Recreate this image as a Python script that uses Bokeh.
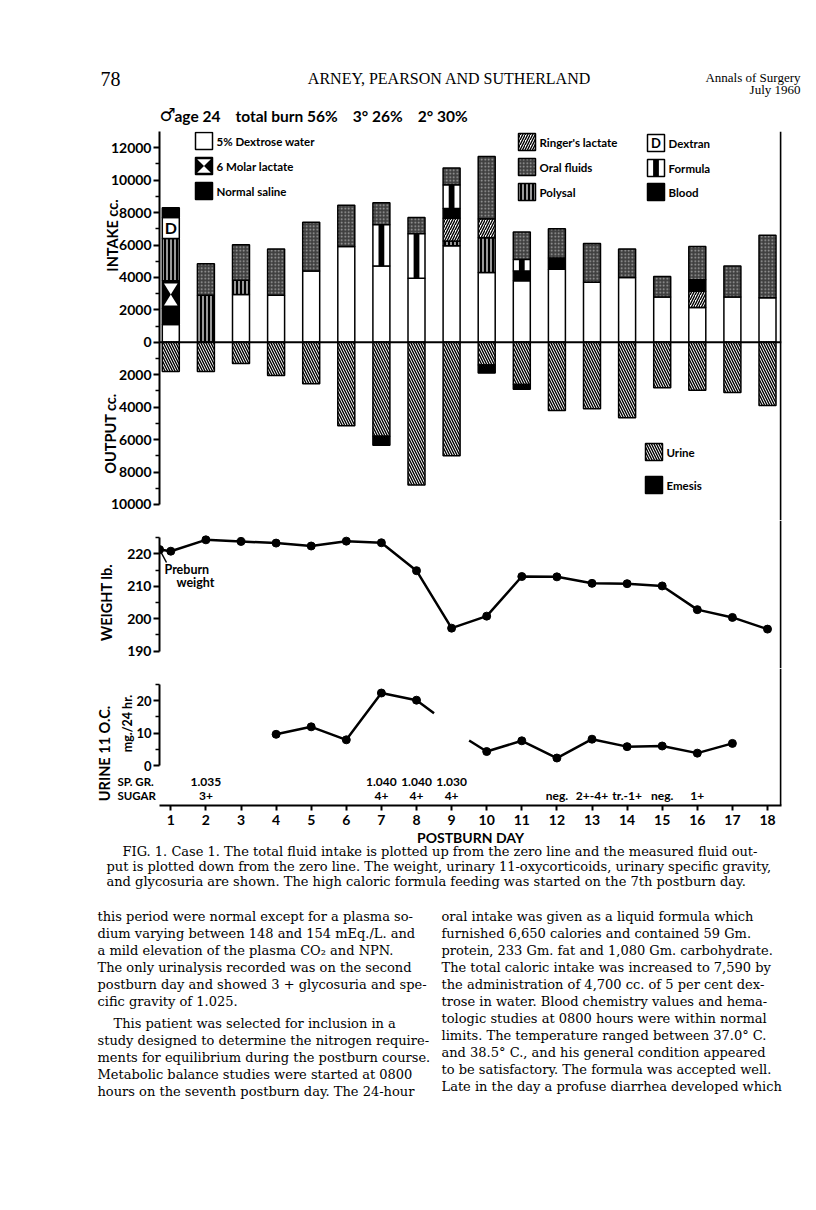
import math
from bokeh.plotting import figure
from bokeh.layouts import column
from bokeh.models import Range1d, FixedTicker, LinearAxis, Label, ColumnDataSource, Span
from bokeh.core.properties import value
from bokeh.embed import file_html
from bokeh.resources import INLINE

# ------------------------------------------------------------------ data
days = list(range(1, 19))

# intake: stacked segments from the zero line upward, in drawing order
intake_day = [1, 1, 1, 1, 1, 1,
              2, 2,
              3, 3, 3,
              4, 4,
              5, 5,
              6, 6,
              7, 7, 7,
              8, 8, 8,
              9, 9, 9, 9, 9, 9,
              10, 10, 10, 10,
              11, 11, 11, 11,
              12, 12, 12,
              13, 13,
              14, 14,
              15, 15,
              16, 16, 16, 16,
              17, 17,
              18, 18]
intake_kind = ["dextrose", "saline", "lactate", "polysal", "dextran", "blood",
               "polysal", "oral",
               "dextrose", "polysal", "oral",
               "dextrose", "oral",
               "dextrose", "oral",
               "dextrose", "oral",
               "dextrose", "formula", "oral",
               "dextrose", "formula", "oral",
               "dextrose", "polysal", "ringer", "blood", "formula", "oral",
               "dextrose", "polysal", "ringer", "oral",
               "dextrose", "blood", "formula", "oral",
               "dextrose", "blood", "oral",
               "dextrose", "oral",
               "dextrose", "oral",
               "dextrose", "oral",
               "dextrose", "ringer", "blood", "oral",
               "dextrose", "oral",
               "dextrose", "oral"]
intake_cc = [1100, 1000, 1700, 2600, 1300, 600,
             2900, 1950,
             2950, 870, 2200,
             2900, 2850,
             4400, 3000,
             5900, 2550,
             4700, 2550, 1350,
             3950, 2750, 1000,
             5950, 300, 1400, 600, 1450, 1050,
             4300, 2150, 1150, 3850,
             3800, 600, 700, 1700,
             4500, 700, 1800,
             3700, 2400,
             4000, 1750,
             2800, 1250,
             2150, 1000, 700, 2050,
             2800, 1900,
             2750, 3850]

# output (plotted downward)
urine_cc = [1800, 1800, 1300, 2050, 2550, 5150, 5800, 8800, 7000,
            1400, 2600, 4200, 4100, 4650, 2800, 2950, 3100, 3900]
emesis_cc = [0, 0, 0, 0, 0, 0, 550, 0, 0,
             500, 300, 0, 0, 0, 0, 0, 0, 0]

# weight (lb)
preburn_day = 0.68
preburn_weight = 221.3
weight_lb = [220.8, 224.3, 223.8, 223.3, 222.4, 223.9, 223.4, 214.8, 197.1,
             200.8, 213.0, 212.9, 210.9, 210.8, 210.1, 202.8, 200.4, 196.8]

# urine 11-oxycorticoids (mg/24 hr), two traced pieces
oc1_day = [4, 5, 6, 7, 8, 8.5]
oc1_val = [9.6, 11.9, 7.9, 22.3, 20.1, 16.1]
oc2_day = [9.5, 10, 11, 12, 13, 14, 15, 16, 17]
oc2_val = [7.7, 4.3, 7.6, 2.3, 8.1, 5.8, 6.0, 3.8, 6.8]

spgr_day = [2, 7, 8, 9]
spgr_txt = ["1.035", "1.040", "1.040", "1.030"]
sugar_day = [2, 7, 8, 9, 12, 13, 14, 15, 16]
sugar_txt = ["3+", "4+", "4+", "4+", "neg.", "2+-4+", "tr.-1+", "neg.", "1+"]

intake_ticks = list(range(0, 12001, 2000))
output_ticks = list(range(-10000, -1999, 2000))
weight_ticks = [190, 200, 210, 220]
oc_ticks = [0, 10, 20]

legend_items = [  # kind, label
    ("dextrose", "5% Dextrose water"), ("lactate", "6 Molar lactate"), ("saline", "Normal saline"),
    ("ringer", "Ringer's lactate"), ("oral", "Oral fluids"), ("polysal", "Polysal"),
    ("dextran", "Dextran"), ("formula", "Formula"), ("blood", "Blood"),
]
out_legend_items = [("urine", "Urine"), ("emesis", "Emesis")]

caption_lines = [
    "FIG. 1. Case 1. The total fluid intake is plotted up from the zero line and the measured fluid out-",
    "put is plotted down from the zero line. The weight, urinary 11-oxycorticoids, urinary specific gravity,",
    "and glycosuria are shown. The high caloric formula feeding was started on the 7th postburn day.",
]
left_col = [
    "this period were normal except for a plasma so-",
    "dium varying between 148 and 154 mEq./L. and",
    "a mild elevation of the plasma CO\u2082 and NPN.",
    "The only urinalysis recorded was on the second",
    "postburn day and showed 3 + glycosuria and spe-",
    "cific gravity of 1.025.",
    "This patient was selected for inclusion in a",
    "study designed to determine the nitrogen require-",
    "ments for equilibrium during the postburn course.",
    "Metabolic balance studies were started at 0800",
    "hours on the seventh postburn day. The 24-hour",
]
right_col = [
    "oral intake was given as a liquid formula which",
    "furnished 6,650 calories and contained 59 Gm.",
    "protein, 233 Gm. fat and 1,080 Gm. carbohydrate.",
    "The total caloric intake was increased to 7,590 by",
    "the administration of 4,700 cc. of 5 per cent dex-",
    "trose in water. Blood chemistry values and hema-",
    "tologic studies at 0800 hours were within normal",
    "limits. The temperature ranged between 37.0\u00b0 C.",
    "and 38.5\u00b0 C., and his general condition appeared",
    "to be satisfactory. The formula was accepted well.",
    "Late in the day a profuse diarrhea developed which",
]

# ------------------------------------------------------------------ layout constants (page pixels)
SANS = "Lato"
SERIF = "Liberation Serif"
BODY = "DejaVu Serif"
NB = "\u00a0"
W = 810                       # width of every figure (page x 0..810)
FL, FR = 159, 781             # frame left / right on the page
DAY1_PX, DAY_PX = 170.3, 35.1
X0 = 1 + (FL - DAY1_PX) / DAY_PX
X1 = 1 + (FR - DAY1_PX) / DAY_PX
BAR_W = 17 / DAY_PX
xr = Range1d(X0, X1)

STYLE = {
    "dextrose": dict(fill_color="white"),
    "dextran": dict(fill_color="white"),
    "formula": dict(fill_color="white"),
    "saline": dict(fill_color="black"),
    "blood": dict(fill_color="black"),
    "lactate": dict(fill_color="black"),
    "emesis": dict(fill_color="black"),
    "polysal": dict(fill_color="black", hatch_pattern="vertical_line", hatch_color="white",
                    hatch_scale=4, hatch_weight=1.2),
    "ringer": dict(fill_color="white", hatch_pattern="right_diagonal_line", hatch_color="black",
                   hatch_scale=5, hatch_weight=1.4),
    "urine": dict(fill_color="white", hatch_pattern="left_diagonal_line", hatch_color="black",
                  hatch_scale=5, hatch_weight=1.4),
    "oral": dict(fill_color="#404040", hatch_pattern="dot", hatch_color="#a8a8a8",
                 hatch_scale=3.5),
}


class Mapper:
    def __init__(self, T, B, y0, y1):
        self.T, self.B, self.y0, self.y1 = T, B, y0, y1

    def x(self, px):
        return X0 + (px - FL) / (FR - FL) * (X1 - X0)

    def y(self, py):
        return self.y0 + (self.B - py) / (self.B - self.T) * (self.y1 - self.y0)


def make_fig(page_top, page_bottom, frame_top, frame_bottom, y0, y1):
    h = page_bottom - page_top
    p = figure(width=W, height=h, x_range=xr, y_range=Range1d(y0, y1),
               output_backend="svg", toolbar_location=None,
               x_axis_location=None, y_axis_location=None,
               min_border_left=FL, min_border_right=W - FR,
               min_border_top=frame_top - page_top, min_border_bottom=page_bottom - frame_bottom)
    p.outline_line_color = None
    p.grid.visible = False
    p.background_fill_color = "white"
    p.border_fill_color = "white"
    return p


def style_axis(ax, size="14px"):
    ax.axis_line_width = 2
    ax.major_tick_line_width = 2
    ax.minor_tick_line_width = 1.5
    ax.major_tick_out = 6
    ax.major_tick_in = 0
    ax.minor_tick_out = 4
    ax.minor_tick_in = 0
    ax.major_label_text_font = SANS
    ax.major_label_text_font_style = "bold"
    ax.major_label_text_font_size = size
    ax.major_label_text_color = "black"
    ax.major_label_standoff = 2


def add_label(p, x, y, text, font=SANS, size="13px", style="bold", align="left", angle=0.0):
    p.add_layout(Label(x=x, y=y, text=text, text_font=font, text_font_size=size,
                       text_font_style=style, text_align=align, text_baseline="middle",
                       angle=angle, text_color="black"))


def draw_blocks(p, kind, left, right, bottom, top, d_size="16px"):
    if not left:
        return
    src = ColumnDataSource(dict(left=left, right=right, bottom=bottom, top=top))
    p.quad(left="left", right="right", bottom="bottom", top="top", source=src,
           line_color="black", line_width=1.5, **STYLE[kind])
    cx = [(l + r) / 2 for l, r in zip(left, right)]
    cy = [(b + t) / 2 for b, t in zip(bottom, top)]
    if kind == "formula":
        hw = [(r - l) * 0.17 for l, r in zip(left, right)]
        p.quad(left=[c - w for c, w in zip(cx, hw)], right=[c + w for c, w in zip(cx, hw)],
               bottom=bottom, top=top, fill_color="black", line_color=None)
    if kind == "dextran":
        p.text(x=cx, y=cy, text=["D"] * len(cx), text_font=value(SANS),
               text_font_style=value("bold"), text_font_size=value(d_size),
               text_align=value("center"), text_baseline=value("middle"), text_color="black")
    if kind == "lactate":
        xs, ys = [], []
        for l, r, b, t, x, y in zip(left, right, bottom, top, cx, cy):
            ix, iy = (r - l) * 0.1, (t - b) * 0.1
            xs += [[l + ix, r - ix, x], [l + ix, r - ix, x]]
            ys += [[t - iy, t - iy, y], [b + iy, b + iy, y]]
        p.patches(xs, ys, fill_color="white", line_color=None)


def border_span(p):
    p.add_layout(Span(location=X1 - 0.02, dimension="height", line_color="black", line_width=2))


# ------------------------------------------------------------------ figure A: intake / output
A_TOP, A_BOT = 0, 520
A_FT, A_FB = 131, 520
ZERO_PX, CC_PX = 341.8, (341.8 - 147.2) / 12000
ya0 = -(A_FB - ZERO_PX) / CC_PX
ya1 = (ZERO_PX - A_FT) / CC_PX
pa = make_fig(A_TOP, A_BOT, A_FT, A_FB, ya0, ya1)
ma = Mapper(A_FT, A_FB, ya0, ya1)

all_ticks = output_ticks + intake_ticks
ax = LinearAxis(ticker=FixedTicker(ticks=all_ticks, minor_ticks=list(range(-9000, 13001, 2000))),
                bounds=(-10000, 13000))
ax.major_label_overrides = {t: str(abs(t)) for t in all_ticks if t < 0}
style_axis(ax, "14px")
pa.add_layout(ax, "left")

base = {d: 0 for d in days}
segs = {}
for d, k, cc in zip(intake_day, intake_kind, intake_cc):
    s = segs.setdefault(k, dict(left=[], right=[], bottom=[], top=[]))
    s["left"].append(d - BAR_W / 2)
    s["right"].append(d + BAR_W / 2)
    s["bottom"].append(base[d])
    s["top"].append(base[d] + cc)
    base[d] += cc
for k, s in segs.items():
    draw_blocks(pa, k, s["left"], s["right"], s["bottom"], s["top"])

draw_blocks(pa, "urine", [d - BAR_W / 2 for d in days], [d + BAR_W / 2 for d in days],
            [-u for u in urine_cc], [0] * len(days))
em = [(d, u, e) for d, u, e in zip(days, urine_cc, emesis_cc) if e > 0]
draw_blocks(pa, "emesis", [d - BAR_W / 2 for d, u, e in em], [d + BAR_W / 2 for d, u, e in em],
            [-(u + e) for d, u, e in em], [-u for d, u, e in em])

pa.add_layout(Span(location=0, dimension="width", line_color="black", line_width=2))
border_span(pa)

BOX = 17
leg_pos = [(195, 132), (195, 157), (195, 182),
           (518, 133), (518, 158), (518, 183),
           (647, 134), (647, 159), (647, 183),
           (645, 443), (645, 476)]
for (kind, text), (bx, by) in zip(legend_items + out_legend_items, leg_pos):
    draw_blocks(pa, kind, [ma.x(bx)], [ma.x(bx + BOX)], [ma.y(by + BOX)], [ma.y(by)], d_size="13px")
    add_label(pa, ma.x(bx + BOX + 4), ma.y(by + BOX / 2), text, size="11.5px")

# ------------------------------------------------------------------ figure B: weight
B_TOP, B_BOT = 520, 668
W_PX = (650.7 - 553.3) / 30
yb0 = 190 - (B_BOT - 650.7) / W_PX
yb1 = 220 + (553.3 - B_TOP) / W_PX
pb = make_fig(B_TOP, B_BOT, B_TOP, B_BOT, yb0, yb1)
mb = Mapper(B_TOP, B_BOT, yb0, yb1)
bx_ = LinearAxis(ticker=FixedTicker(ticks=weight_ticks, minor_ticks=[195, 205, 215, 225]),
                 bounds=(190, 225))
style_axis(bx_, "14px")
pb.add_layout(bx_, "left")
wx = [preburn_day] + days
wy = [preburn_weight] + weight_lb
pb.line(wx, wy, line_color="black", line_width=2.5)
pb.scatter(wx, wy, size=8, color="black")
pb.line([preburn_day, mb.x(166)], [preburn_weight, mb.y(562)], line_color="black", line_width=1.5)
border_span(pb)
add_label(pb, mb.x(164), mb.y(569), "Preburn", size="12.5px")
add_label(pb, mb.x(176), mb.y(582), "weight", size="12.5px")

# ------------------------------------------------------------------ figure C: urine 11-OC + day axis
C_TOP, C_BOT = 668, 830
C_FB = 805
U_PX = (765 - 700) / 20
yc0 = -(C_FB - 765) / U_PX
yc1 = 20 + (700 - C_TOP) / U_PX
pc = make_fig(C_TOP, C_BOT, C_TOP, C_FB, yc0, yc1)
mc = Mapper(C_TOP, C_FB, yc0, yc1)
cy_ax = LinearAxis(ticker=FixedTicker(ticks=oc_ticks, minor_ticks=[5, 15, 25]), bounds=(0, 25))
style_axis(cy_ax, "13px")
pc.add_layout(cy_ax, "left")
cx_ax = LinearAxis(ticker=FixedTicker(ticks=days))
style_axis(cx_ax, "14px")
cx_ax.major_tick_out = 5
cx_ax.major_label_standoff = 4
pc.add_layout(cx_ax, "below")

pc.line(oc1_day, oc1_val, line_color="black", line_width=2.5)
pc.line(oc2_day, oc2_val, line_color="black", line_width=2.5)
mk = [(d, v) for d, v in zip(oc1_day + oc2_day, oc1_val + oc2_val) if float(d).is_integer()]
pc.scatter([d for d, v in mk], [v for d, v in mk], size=8, color="black")
border_span(pc)
for d, t in zip(spgr_day, spgr_txt):
    add_label(pc, d, mc.y(781), t, size="12px", align="center")
for d, t in zip(sugar_day, sugar_txt):
    add_label(pc, d, mc.y(795), t, size="12px", align="center")

# ------------------------------------------------------------------ overlay: page texts (page-pixel coords)
CHART_H = (A_BOT - A_TOP) + (B_BOT - B_TOP) + (C_BOT - C_TOP)
OH = 1200
po = figure(width=W, height=OH, x_range=Range1d(0, W), y_range=Range1d(OH, 0),
            output_backend="svg", toolbar_location=None,
            x_axis_location=None, y_axis_location=None, min_border=0)
po.outline_line_color = None
po.grid.visible = False
po.background_fill_color = None
po.border_fill_color = None
po.frame_align = False
po.margin = (-CHART_H, 0, 0, 0)

add_label(po, 100, 78, "78", font=SERIF, size="20px", style="normal")
add_label(po, 449, 78, "ARNEY, PEARSON AND SUTHERLAND", font=SERIF, size="16px",
          style="normal", align="center")
add_label(po, 800, 77, "Annals of Surgery", font=SERIF, size="13px", style="normal", align="right")
add_label(po, 800, 89, "July 1960", font=SERIF, size="13px", style="normal", align="right")
add_label(po, 159, 114, "\u2642", font="DejaVu Sans", size="18px")
add_label(po, 174, 115, "age" + NB + "24" + NB * 4 + "total" + NB + "burn" + NB + "56%"
          + NB * 4 + "3\u00b0" + NB + "26%" + NB * 4 + "2\u00b0" + NB + "30%", size="15.5px")
add_label(po, 112, 235, "INTAKE cc.", size="14.5px", align="center", angle=math.pi / 2)
add_label(po, 110, 433, "OUTPUT cc.", size="14.5px", align="center", angle=math.pi / 2)
add_label(po, 106, 602, "WEIGHT lb.", size="14.5px", align="center", angle=math.pi / 2)
add_label(po, 104, 753, "URINE 11 O.C.", size="14.5px", align="center", angle=math.pi / 2)
add_label(po, 127, 723, "mg./24 hr.", size="12.5px", align="center", angle=math.pi / 2)
add_label(po, 117, 781, "SP. GR.", size="11.5px")
add_label(po, 117, 795, "SUGAR", size="11.5px")
add_label(po, 470, 837, "POSTBURN DAY", size="14px", align="center")

cap_x = [122, 106, 106]
for i, (t, x) in enumerate(zip(caption_lines, cap_x)):
    add_label(po, x, 851 + 15 * i, t, font=BODY, size="13px", style="normal")
for i, t in enumerate(left_col):
    y = 916 + 17 * i + (5 if i >= 6 else 0)
    x = 113 if i == 6 else 97
    add_label(po, x, y, t, font=BODY, size="13px", style="normal")
for i, t in enumerate(right_col):
    add_label(po, 441, 916 + 17 * i, t, font=BODY, size="13px", style="normal")

layout = column(pa, pb, pc, po, spacing=0)
open("out.html", "w").write(file_html(layout, INLINE))
